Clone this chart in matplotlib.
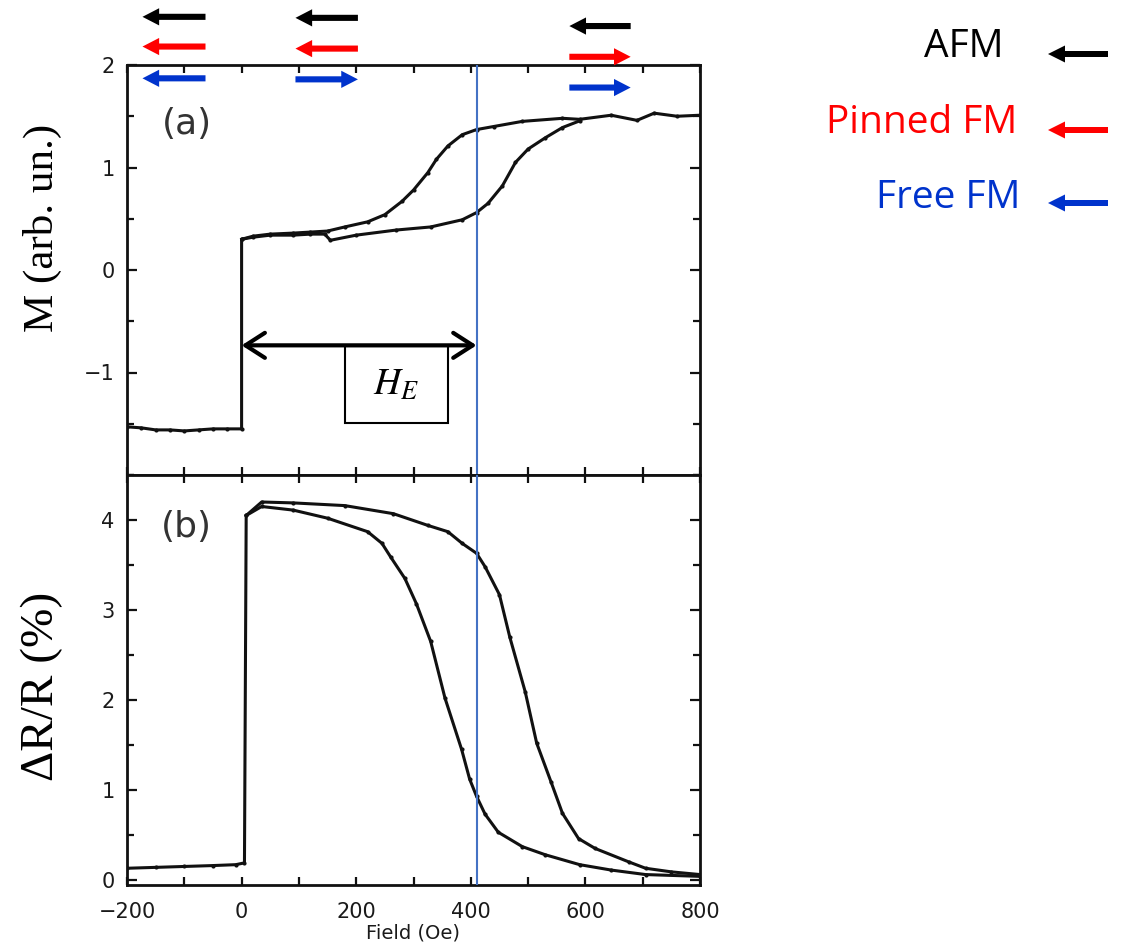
import matplotlib
matplotlib.use("Agg")
import matplotlib.pyplot as plt
from matplotlib.patches import Rectangle, FancyArrow
from matplotlib.ticker import MultipleLocator, FixedLocator

# ---------------- data ----------------
# (a) magnetisation loop
m_left_field = [-200, -175, -150, -125, -100, -75, -50, -25, 0]
m_left = [-1.53, -1.54, -1.56, -1.56, -1.57, -1.56, -1.55, -1.55, -1.55]

m_upper_field = [0, 20, 50, 90, 120, 150, 180, 220, 250, 280, 300, 325, 340,
                 360, 385, 410, 440, 490, 560, 590, 645, 690, 720, 760, 800]
m_upper = [0.30, 0.33, 0.35, 0.36, 0.37, 0.38, 0.42, 0.47, 0.54, 0.67, 0.78,
           0.95, 1.08, 1.21, 1.32, 1.37, 1.40, 1.45, 1.48, 1.47, 1.51, 1.46,
           1.53, 1.50, 1.51]

m_lower_field = [0, 20, 50, 90, 120, 145, 155, 200, 270, 330, 385, 410, 430,
                 455, 478, 500, 530, 560, 590]
m_lower = [0.30, 0.32, 0.34, 0.34, 0.35, 0.35, 0.29, 0.34, 0.39, 0.42, 0.49,
           0.56, 0.65, 0.82, 1.05, 1.18, 1.29, 1.39, 1.455]

# (b) magnetoresistance
r_left_field = [-200, -150, -100, -50, -10, 5]
r_left = [0.13, 0.14, 0.15, 0.16, 0.17, 0.19]

r_outer_field = [8, 35, 90, 180, 265, 325, 360, 385, 410, 425, 450, 468, 495,
                 515, 540, 560, 588, 617, 676, 705, 750, 800]
r_outer = [4.05, 4.20, 4.19, 4.16, 4.07, 3.94, 3.87, 3.74, 3.63, 3.48, 3.17,
           2.70, 2.09, 1.52, 1.09, 0.74, 0.46, 0.35, 0.20, 0.13, 0.09, 0.06]

r_inner_field = [8, 35, 90, 150, 220, 245, 260, 285, 305, 330, 355, 384, 398,
                 410, 425, 448, 490, 530, 590, 645, 705, 800]
r_inner = [4.05, 4.15, 4.11, 4.02, 3.87, 3.74, 3.59, 3.35, 3.07, 2.65, 2.02,
           1.45, 1.12, 0.93, 0.73, 0.53, 0.37, 0.28, 0.17, 0.11, 0.06, 0.04]

exchange_field = 410          # blue guide line (Oe)
he_span = [0, 410]            # H_E double arrow

x_ticks = [-200, 0, 200, 400, 600, 800]
m_ticks = [-1, 0, 1, 2]
r_ticks = [0, 1, 2, 3, 4]

# spin-configuration arrows over panel (a): (field start, field end, M level, colour)
BLACK, RED, BLUE = "#000000", "#FF0000", "#0033CC"
config_arrows = [
    (-63, -173, 2.47, BLACK), (-63, -173, 2.18, RED), (-63, -173, 1.87, BLUE),
    (203, 94, 2.46, BLACK), (203, 94, 2.16, RED), (94, 203, 1.86, BLUE),
    (679, 572, 2.38, BLACK), (572, 679, 2.08, RED), (572, 679, 1.78, BLUE),
]
legend_labels = ["AFM", "Pinned FM", "Free FM"]
legend_colors = [BLACK, RED, BLUE]

# ---------------- figure ----------------
W, H = 1125, 950
fig = plt.figure(figsize=(W / 100, H / 100), dpi=100)
plt.rcParams["mathtext.fontset"] = "stix"

left, right = 127, 700
ax1 = fig.add_axes([left / W, 1 - 475 / H, (right - left) / W, 410 / H])
ax2 = fig.add_axes([left / W, 1 - 885 / H, (right - left) / W, 410 / H])

ink = "#111111"
line_kw = dict(color=ink, lw=2.2, marker="o", ms=3.0, mew=0,
               solid_joinstyle="round")

ax1.plot(m_left_field + m_upper_field, m_left + m_upper, **line_kw)
ax1.plot(m_lower_field, m_lower, **line_kw)
ax2.plot(r_left_field + r_outer_field, r_left + r_outer, **line_kw)
ax2.plot(r_inner_field, r_inner, **line_kw)

for ax in (ax1, ax2):
    ax.set_xlim(-200, 800)
    for s in ax.spines.values():
        s.set_linewidth(2.0)
        s.set_color(ink)
    ax.xaxis.set_major_locator(FixedLocator(x_ticks))
    ax.xaxis.set_minor_locator(MultipleLocator(100))
    ax.yaxis.set_minor_locator(MultipleLocator(0.5))
    ax.tick_params(which="both", direction="in", top=True, right=True,
                   width=1.6, color=ink, labelsize=15, labelcolor="#1a1a1a")
    ax.tick_params(which="major", length=7, pad=9)
    ax.tick_params(which="minor", length=5)
    ax.tick_params(axis="x", which="both", length=6)
    ax.axvline(exchange_field, color="#4472C4", lw=1.5, zorder=5)

ax1.set_ylim(-2, 2)
ax1.yaxis.set_major_locator(FixedLocator(m_ticks))
ax1.tick_params(labelbottom=False)
ax2.set_ylim(-0.056, 4.5)
ax2.yaxis.set_major_locator(FixedLocator(r_ticks))
ax2.tick_params(axis="x", pad=12)
ax2.set_xlabel("Field (Oe)", fontsize=14, color="#1a1a1a", labelpad=1)

ax1.text(-96, 1.42, "(a)", fontsize=26, color="#333333", ha="center", va="center")
ax2.text(-96, 3.92, "(b)", fontsize=26, color="#333333", ha="center", va="center")

# H_E annotation
ax1.annotate("", xy=(he_span[1], -0.735), xytext=(he_span[0], -0.735),
             arrowprops=dict(arrowstyle="<->,head_length=0.7,head_width=0.45",
                             lw=3, color="black", shrinkA=0, shrinkB=0,
                             mutation_scale=20),
             zorder=6)
ax1.add_patch(Rectangle((180, -1.49), 180, 0.745, fill=False, ec="black", lw=1.5, zorder=6))
ax1.text(270, -1.12, r"$H_E$", fontsize=27, ha="center", va="center", zorder=7)

# spin configuration arrows above panel (a)
for x0, x1, yv, c in config_arrows:
    ax1.annotate("", xy=(x1, yv), xytext=(x0, yv), annotation_clip=False,
                 arrowprops=dict(arrowstyle="simple,head_length=0.6,head_width=0.62,tail_width=0.22",
                                 color=c, lw=0, shrinkA=0, shrinkB=0, mutation_scale=20))

# axis labels (serif, as in the figure)
fig.text(42 / W, 1 - 228 / H, "M (arb. un.)", rotation=90, fontsize=31,
         family="Liberation Serif", ha="center", va="center")
fig.text(42 / W, 1 - 686 / H, "ΔR/R (%)", rotation=90, fontsize=34,
         family="Liberation Serif", ha="center", va="center")

# legend on the right
text_right = [1004, 1017, 1020]
text_y = [47, 123, 198]
arrow_y = [54, 130, 203]
for lab, c, tx, ty, ay in zip(legend_labels, legend_colors, text_right, text_y, arrow_y):
    fig.text(tx / W, 1 - ty / H, lab, color=c, fontsize=28, family="Open Sans",
             ha="right", va="center")
    fig.patches.append(FancyArrow(1108 / 100, (H - ay) / 100, -0.60, 0,
                                  width=0.06, head_width=0.17, head_length=0.17,
                                  length_includes_head=True, color=c, lw=0,
                                  transform=fig.dpi_scale_trans, figure=fig))

fig.savefig("out.png", dpi=100)
